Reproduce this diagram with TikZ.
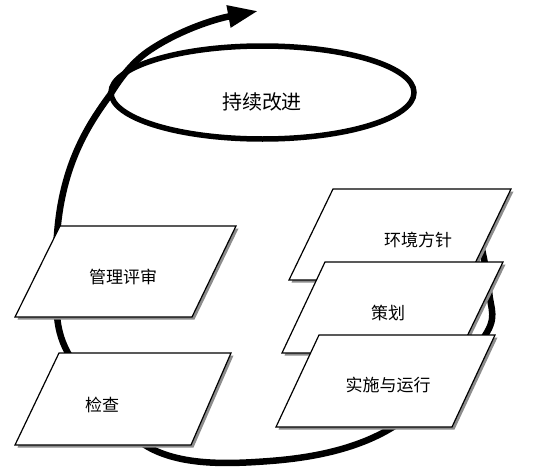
\documentclass[tikz,border=0pt]{standalone}
\usepackage{fontspec}
\setmainfont{Noto Sans CJK SC}
\usetikzlibrary{arrows.meta,shadows}
\tikzset{
  boxshape/.style={draw=black, line width=1.2pt, fill=white, line join=miter,
    drop shadow={shadow xshift=2.5pt, shadow yshift=-2.5pt, fill=black!45, opacity=1}},
  boxtext/.style={font=\fontsize{17}{17}\selectfont, inner sep=0pt},
  bigloop/.style={line width=6.5pt, line cap=butt},
}
\begin{document}
\begin{tikzpicture}[x=1pt,y=-1pt]
\useasboundingbox[fill=white] (0,0) rectangle (542,474);
% big loop
\coordinate (lp) at (57,235);
\coordinate (el) at (110,95);
\coordinate (sp) at (150,50);
\coordinate (tip) at (258,11);
\draw[bigloop, -{Triangle[length=30pt,width=21pt]}]
  plot[smooth, tension=0.6] coordinates {
    (474,215) (489,290) (482,340) (388,430) (270,461) (150,448)
    (68,353) (56,280) (57,235)}
  .. controls (62,165) and (88,125) .. (el)
  .. controls (122,75) and (135,60) .. (sp)
  .. controls (180,30) and (215,19) .. (tip);
% ellipse
\draw[line width=5.5pt] (262.5,92.5) ellipse [x radius=151.5, y radius=46.5];
\node[font=\fontsize{20}{20}\selectfont, inner sep=0pt] (ci) at (262,102) {持续改进};
% left boxes
\path[boxshape] (60,226) -- (236,226) -- (192,317) -- (15,317) -- cycle;
\node[boxtext] (mr) at (123,277) {管理评审};
\path[boxshape] (59,353) -- (231,353) -- (191,445) -- (15,445) -- cycle;
\node[boxtext] (ck) at (102,405) {检查};
% right stack
\path[boxshape] (333,189) -- (511,189) -- (467,280) -- (289,280) -- cycle;
\node[boxtext] (ep) at (418,240) {环境方针};
\path[boxshape] (325,262) -- (503,262) -- (459,353) -- (282,353) -- cycle;
\node[boxtext] (pl) at (388,313) {策划};
\path[boxshape] (319,335) -- (495,335) -- (452,427) -- (276,427) -- cycle;
\node[boxtext] (io) at (388,385) {实施与运行};
\end{tikzpicture}
\end{document}
